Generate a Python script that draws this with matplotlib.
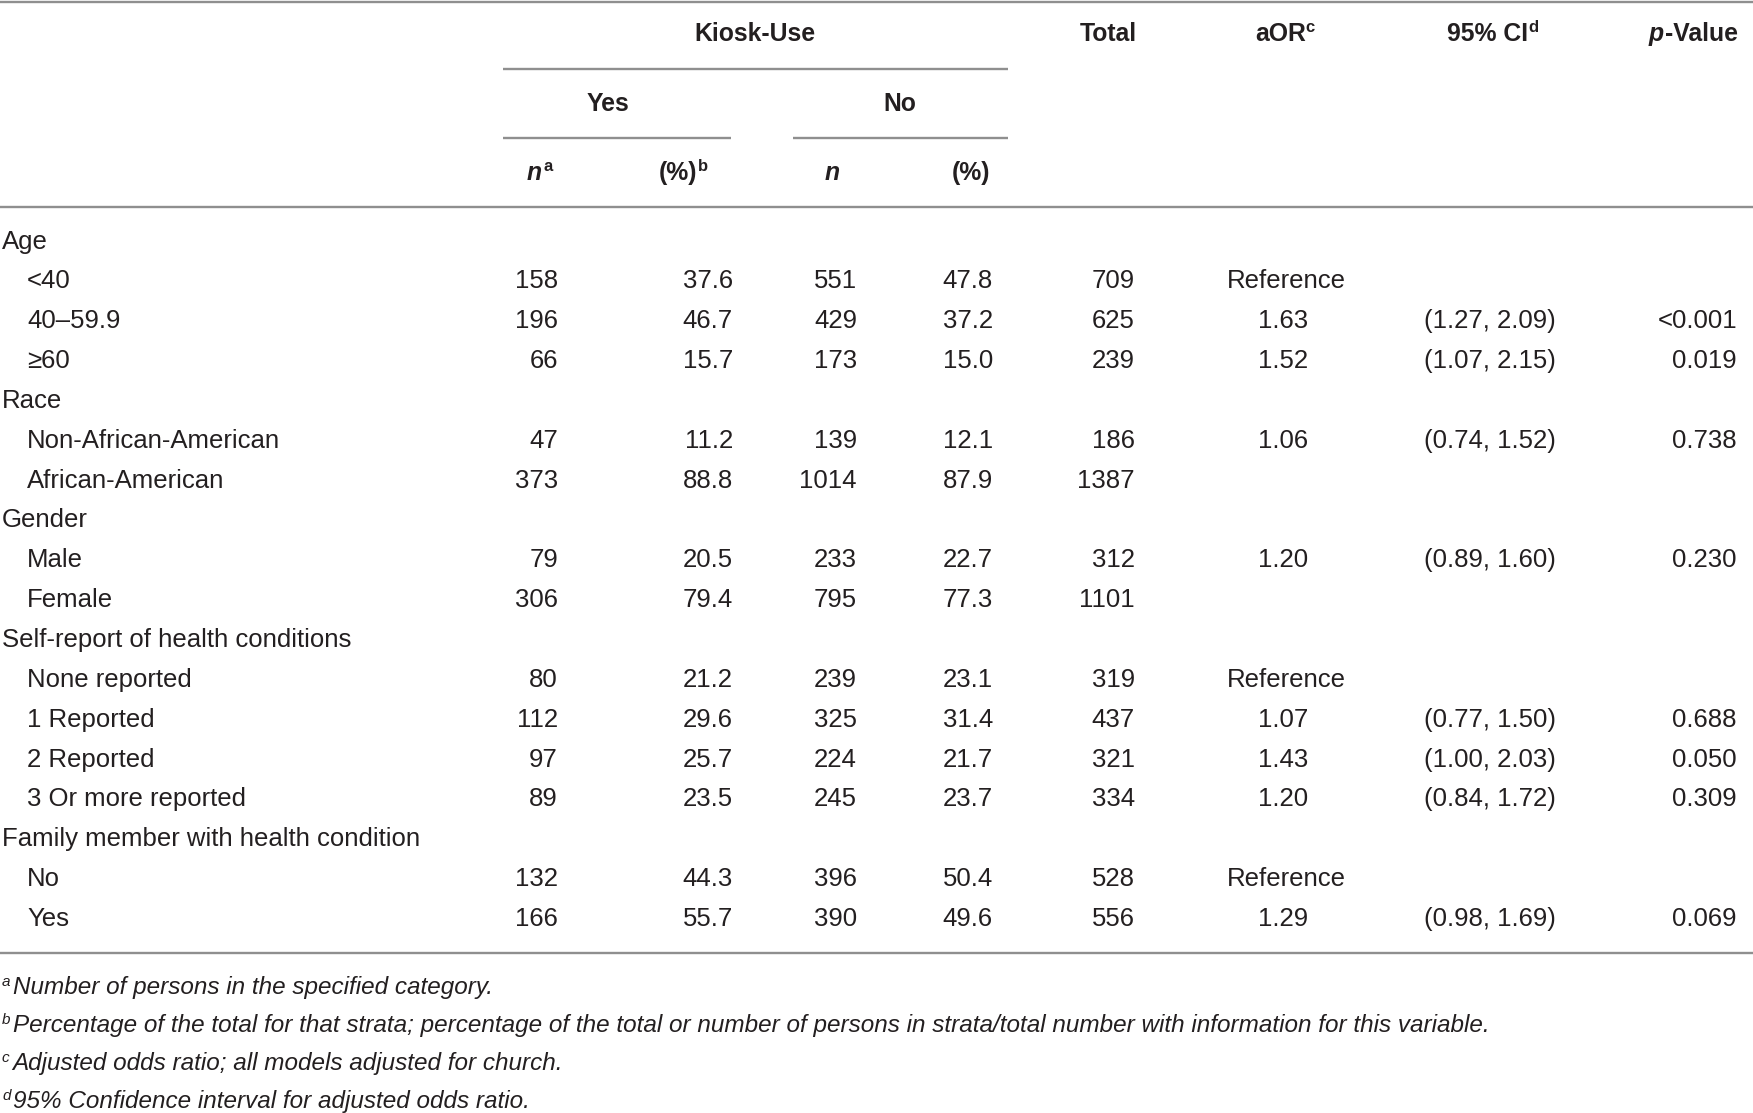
import matplotlib
matplotlib.use("Agg")
import matplotlib.pyplot as plt
from matplotlib.font_manager import FontProperties

# ---------------- data ----------------
row_labels = ["Age", "<40", "40–59.9", "≥60",
              "Race", "Non-African-American", "African-American",
              "Gender", "Male", "Female",
              "Self-report of health conditions", "None reported", "1 Reported",
              "2 Reported", "3 Or more reported",
              "Family member with health condition", "No", "Yes"]
is_group = [True, False, False, False,
            True, False, False,
            True, False, False,
            True, False, False, False, False,
            True, False, False]
yes_n = [None, 158, 196, 66, None, 47, 373, None, 79, 306,
         None, 80, 112, 97, 89, None, 132, 166]
yes_pct = [None, 37.6, 46.7, 15.7, None, 11.2, 88.8, None, 20.5, 79.4,
           None, 21.2, 29.6, 25.7, 23.5, None, 44.3, 55.7]
no_n = [None, 551, 429, 173, None, 139, 1014, None, 233, 795,
        None, 239, 325, 224, 245, None, 396, 390]
no_pct = [None, 47.8, 37.2, 15.0, None, 12.1, 87.9, None, 22.7, 77.3,
          None, 23.1, 31.4, 21.7, 23.7, None, 50.4, 49.6]
total = [None, 709, 625, 239, None, 186, 1387, None, 312, 1101,
         None, 319, 437, 321, 334, None, 528, 556]
aor = [None, "Reference", "1.63", "1.52", None, "1.06", None, None, "1.20", None,
       None, "Reference", "1.07", "1.43", "1.20", None, "Reference", "1.29"]
ci = [None, None, "(1.27, 2.09)", "(1.07, 2.15)", None, "(0.74, 1.52)", None, None,
      "(0.89, 1.60)", None, None, None, "(0.77, 1.50)", "(1.00, 2.03)", "(0.84, 1.72)",
      None, None, "(0.98, 1.69)"]
pval = [None, None, "<0.001", "0.019", None, "0.738", None, None, "0.230", None,
        None, None, "0.688", "0.050", "0.309", None, None, "0.069"]

footnote_marks = ["a", "b", "c", "d"]
footnotes = ["Number of persons in the specified category.",
             "Percentage of the total for that strata; percentage of the total or number of persons in strata/total number with information for this variable.",
             "Adjusted odds ratio; all models adjusted for church.",
             "95% Confidence interval for adjusted odds ratio."]

# ---------------- styles ----------------
W, H = 1753, 1113
TXT = "#231f20"
LINE = "#8f8f8f"
FAM = ["Liberation Sans", "DejaVu Sans"]
body = FontProperties(family=FAM, size=18.5)
bold = FontProperties(family=FAM, size=17.8, weight="bold")
bolditalic = FontProperties(family=FAM, size=17.8, weight="bold", style="italic")
supb = FontProperties(family=FAM, size=12, weight="bold")
ital = FontProperties(family=FAM, size=17.5, style="italic")
supi = FontProperties(family=FAM, size=11, style="italic")

fig = plt.figure(figsize=(W / 100, H / 100), dpi=100)
ax = fig.add_axes([0, 0, 1, 1])
ax.set_xlim(0, W)
ax.set_ylim(H, 0)
ax.axis("off")
renderer = fig.canvas.get_renderer()


def width_of(s, fp):
    t = ax.text(0, 0, s, fontproperties=fp)
    w = t.get_window_extent(renderer=renderer).width
    t.remove()
    return w


def runs(x, y, parts, align="left"):
    """parts: list of (text, fontprops, dy, gap_after)"""
    widths = [width_of(p[0], p[1]) + p[3] for p in parts]
    tot = sum(widths)
    if align == "right":
        x = x - tot
    elif align == "center":
        x = x - tot / 2
    for (s, fp, dy, _), w in zip(parts, widths):
        ax.text(x, y + dy, s, fontproperties=fp, color=TXT, va="baseline", ha="left")
        x += w


def hline(y, x0, x1):
    ax.plot([x0, x1], [y, y], color=LINE, lw=1.7, solid_capstyle="butt")


# ---------------- rules ----------------
hline(1.5, 0, W)
hline(69, 503, 1008)
hline(138, 503, 731)
hline(138, 793, 1008)
hline(207, 0, W)
hline(953, 0, W)

# ---------------- header ----------------
SUP = -9
runs(755, 41, [("Kiosk-Use", bold, 0, 0)], align="center")
runs(1080, 41, [("Total", bold, 0, 0)])
runs(1255, 41, [("aOR", bold, 0, 0), ("c", supb, SUP, 0)])
runs(1447, 41, [("95% CI", bold, 0, 0), ("d", supb, SUP, 0)])
runs(1738, 41, [("p", bolditalic, 0, 1), ("-Value", bold, 0, 0)], align="right")
runs(608, 111, [("Yes", bold, 0, 0)], align="center")
runs(900, 111, [("No", bold, 0, 0)], align="center")
runs(527, 180, [("n", bolditalic, 0, 1), ("a", supb, SUP, 0)])
runs(659, 180, [("(%)", bold, 0, 0), ("b", supb, SUP, 0)])
runs(825, 180, [("n", bolditalic, 0, 0)])
runs(952, 180, [("(%)", bold, 0, 0)])

# ---------------- body ----------------
Y0, DY = 248.5, 39.85
col_right = {"yes_n": 558, "yes_pct": 733, "no_n": 857, "no_pct": 993,
             "total": 1135, "aor": 1308, "ci": 1556, "p": 1737}


def put(x, y, s, ha="right"):
    ax.text(x, y, s, fontproperties=body, color=TXT, va="baseline", ha=ha)


for i, lab in enumerate(row_labels):
    y = Y0 + i * DY
    put(2 if is_group[i] else 27, y, lab, ha="left")
    if yes_n[i] is not None:
        put(col_right["yes_n"], y, f"{yes_n[i]}")
    if yes_pct[i] is not None:
        put(col_right["yes_pct"], y, f"{yes_pct[i]:.1f}")
    if no_n[i] is not None:
        put(col_right["no_n"], y, f"{no_n[i]}")
    if no_pct[i] is not None:
        put(col_right["no_pct"], y, f"{no_pct[i]:.1f}")
    if total[i] is not None:
        put(col_right["total"], y, f"{total[i]}")
    if aor[i] is not None:
        if aor[i] == "Reference":
            put(1227, y, aor[i], ha="left")
        else:
            put(col_right["aor"], y, aor[i])
    if ci[i] is not None:
        put(col_right["ci"], y, ci[i])
    if pval[i] is not None:
        put(col_right["p"], y, pval[i])

# ---------------- footnotes ----------------
FY0, FDY = 994, 38
for k, (m, note) in enumerate(zip(footnote_marks, footnotes)):
    y = FY0 + k * FDY
    runs(2, y, [(m, supi, -8, 3), (note, ital, 0, 0)])

fig.savefig("out.png", dpi=100, facecolor="white")
